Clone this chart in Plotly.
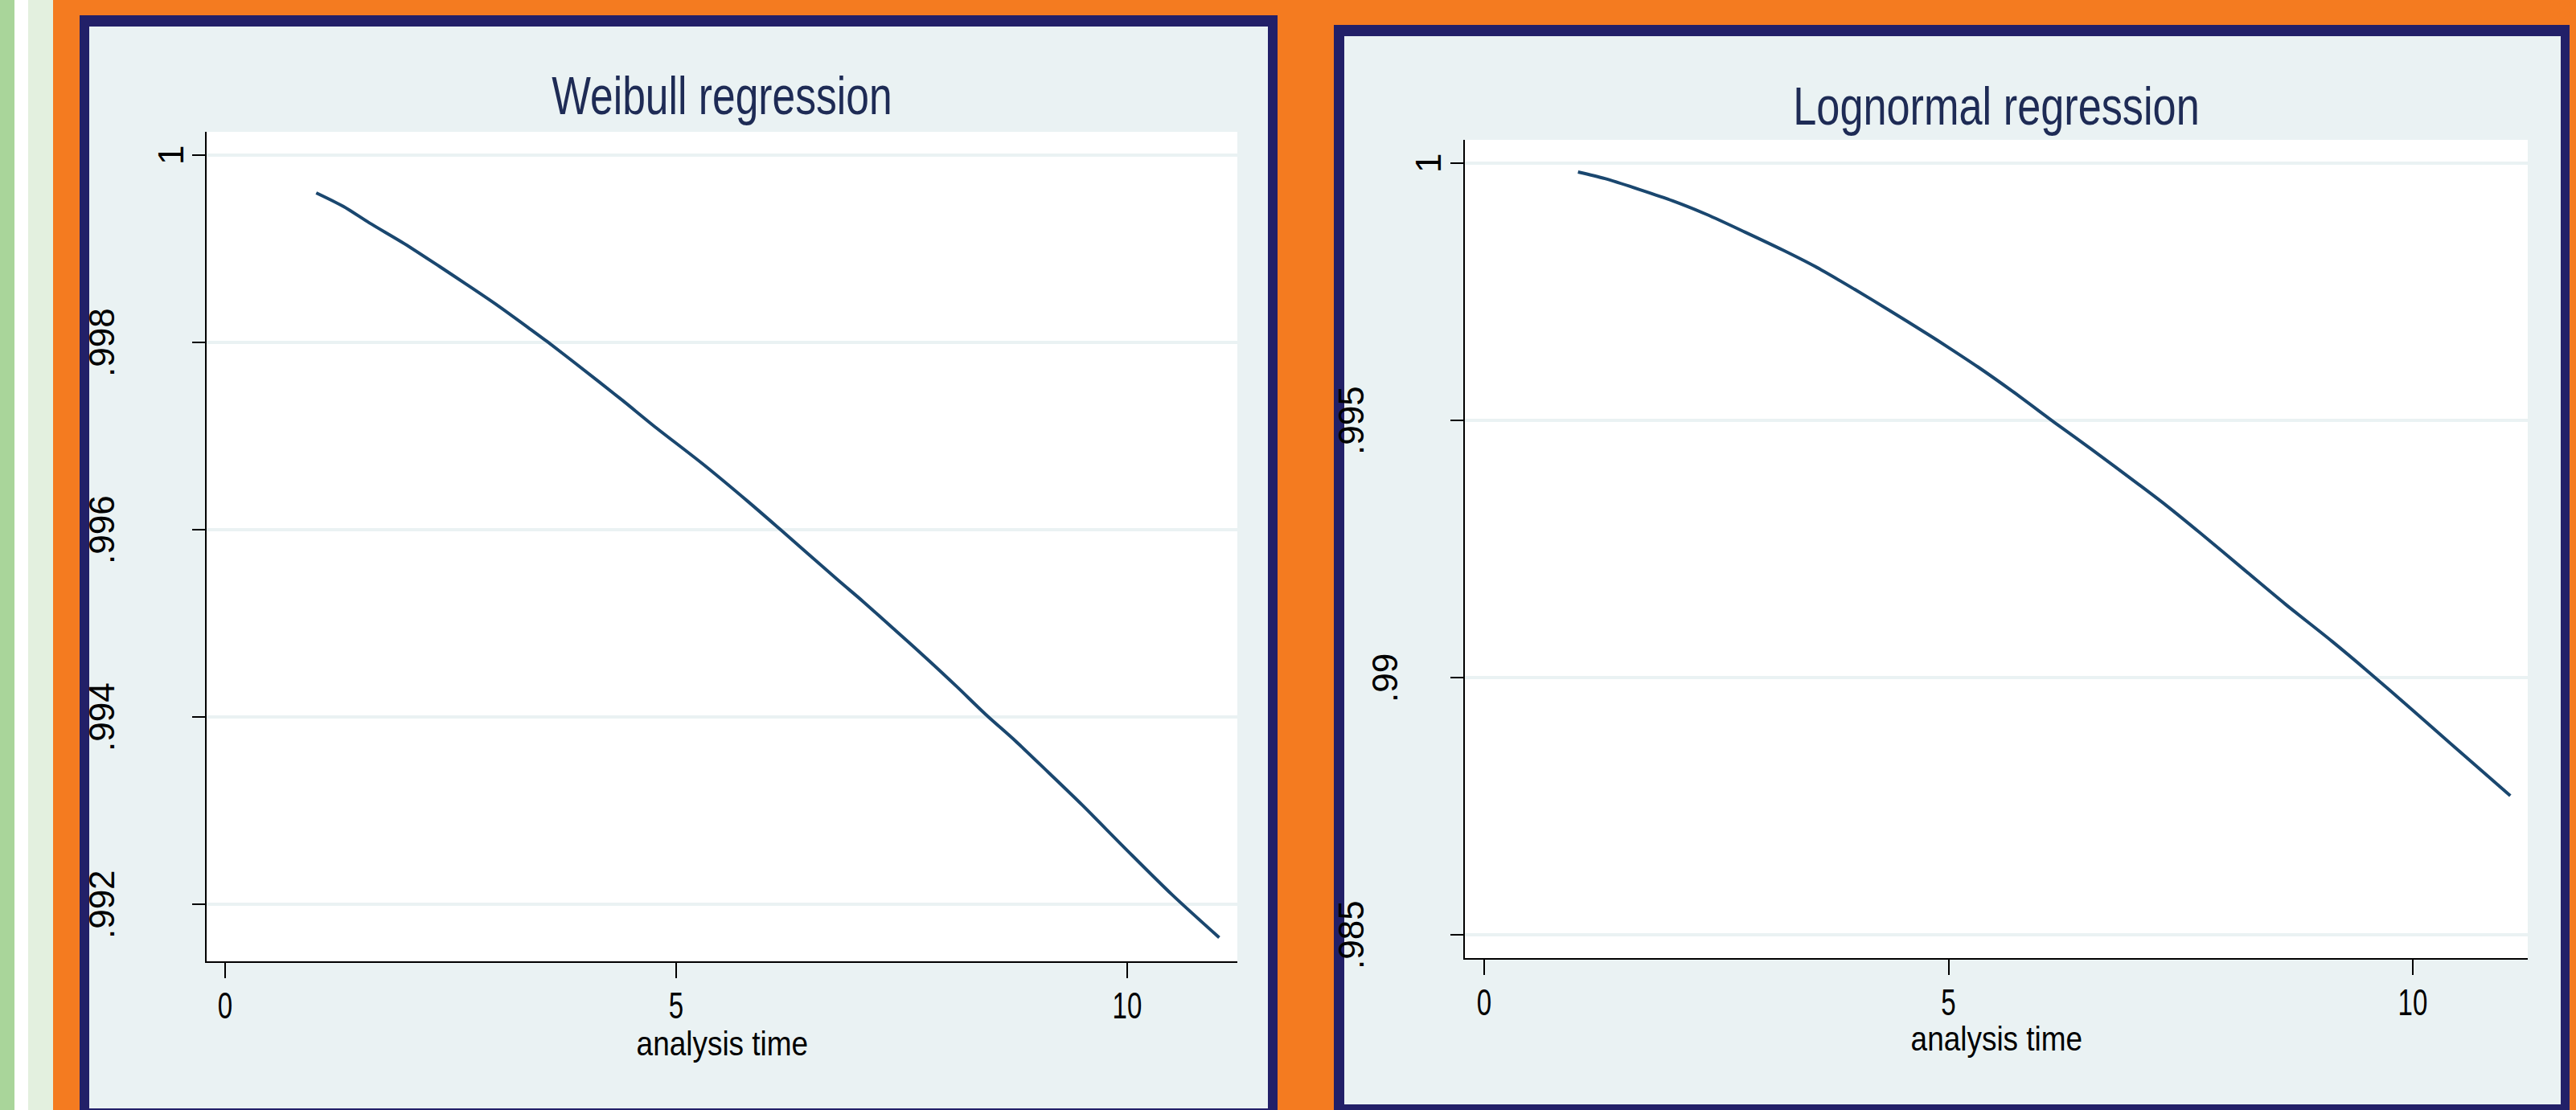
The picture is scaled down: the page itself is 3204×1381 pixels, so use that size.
import json
import plotly.graph_objects as go

# ---------------- data ----------------
weibull_t = [1.01, 1.31, 1.60, 1.99, 2.38, 2.67, 3.00, 3.39, 3.57, 3.86, 4.40, 4.75,
             5.29, 5.79, 6.15, 6.80, 7.07, 7.43, 7.81, 8.11, 8.44, 8.76, 9.12, 9.50,
             10.00, 10.50, 11.02]
weibull_s = [0.999597, 0.999453, 0.999276, 0.999053, 0.998809, 0.998624, 0.998409,
             0.998137, 0.998009, 0.997794, 0.997385, 0.997110, 0.996706, 0.996306,
             0.996006, 0.995457, 0.995235, 0.994925, 0.994595, 0.994325, 0.994020,
             0.993745, 0.993414, 0.993061, 0.992575, 0.992100, 0.991644]

lognormal_t = [1.01, 1.30, 1.68, 2.03, 2.40, 2.81, 3.21, 3.56, 3.99, 4.34, 4.80, 5.00,
               5.32, 5.69, 6.18, 6.53, 7.05, 7.34, 7.71, 8.20, 8.63, 9.13, 9.50, 10.00,
               10.50, 11.05]
lognormal_s = [0.999828, 0.999700, 0.999483, 0.999268, 0.999000, 0.998659, 0.998316,
               0.997995, 0.997546, 0.997165, 0.996649, 0.996417, 0.996035, 0.995564,
               0.994907, 0.994451, 0.993753, 0.993354, 0.992812, 0.992072, 0.991424,
               0.990705, 0.990146, 0.989363, 0.988569, 0.987704]

x_ticks = [0, 5, 10]
x_ticklabels = ["0", "5", "10"]
weibull_yticks = [0.992, 0.994, 0.996, 0.998, 1.0]
weibull_ylabels = [".992", ".994", ".996", ".998", "1"]
lognormal_yticks = [0.985, 0.99, 0.995, 1.0]
lognormal_ylabels = [".985", ".99", ".995", "1"]
panel_titles = ["Weibull regression", "Lognormal regression"]
x_title = "analysis time"

# ---------------- styling ----------------
W, H = 3204, 1381
ORANGE = "#f47b20"
NAVY = "#222068"
PANEL_BG = "#eaf2f3"
GRID = "#eaf2f3"
LINE = "#1a476f"
TITLE_C = "#1e2b55"
FONT = "Liberation Sans, Arial, sans-serif"


def fx(p):
    return p / W


def fy(p):
    return 1 - p / H


def rect(x0, y0, x1, y1, color):
    return dict(type="rect", xref="paper", yref="paper", layer="below",
                x0=fx(x0), x1=fx(x1), y0=fy(y1), y1=fy(y0),
                fillcolor=color, line=dict(width=0))


shapes = [
    rect(0, 0, 18, H, "#a9d59a"),
    rect(18, 0, 35, H, "#ffffff"),
    rect(35, 0, 66, H, "#e3f0df"),
    # panel 1
    rect(99, 19, 1589, H + 5, NAVY),
    rect(111, 33, 1577, 1379, PANEL_BG),
    rect(257, 164, 1539, 1196, "#ffffff"),
    # panel 2
    rect(1659, 31, 3196, H + 5, NAVY),
    rect(1672, 45, 3185, 1374, PANEL_BG),
    rect(1822, 174, 3144, 1192, "#ffffff"),
]

fig = go.Figure()
fig.add_trace(go.Scatter(x=weibull_t, y=weibull_s, mode="lines",
                         line=dict(color=LINE, width=4, shape="spline", smoothing=0.8),
                         xaxis="x", yaxis="y", showlegend=False, hoverinfo="skip"))
fig.add_trace(go.Scatter(x=lognormal_t, y=lognormal_s, mode="lines",
                         line=dict(color=LINE, width=4, shape="spline", smoothing=0.8),
                         xaxis="x2", yaxis="y2", showlegend=False, hoverinfo="skip"))

xaxis_common = dict(tickvals=x_ticks, ticktext=x_ticklabels, ticks="outside",
                    ticklen=19, tickwidth=2, tickcolor="black", showline=True,
                    linecolor="black", linewidth=2, showgrid=False, zeroline=False,
                    tickfont=dict(family=FONT, size=46, color="black"),
                    ticklabelstandoff=-5, fixedrange=True)
yaxis_common = dict(ticks="outside", ticklen=16, tickwidth=2, tickcolor="black",
                    showline=True, linecolor="black", linewidth=2, showgrid=True,
                    gridcolor=GRID, gridwidth=4, zeroline=False,
                    showticklabels=False, fixedrange=True)

fig.update_layout(
    width=W, height=H, autosize=False,
    margin=dict(l=0, r=0, t=0, b=0, pad=0),
    paper_bgcolor=ORANGE, plot_bgcolor="rgba(0,0,0,0)",
    shapes=shapes,
    xaxis=dict(domain=[fx(257), fx(1539)], range=[-0.205, 11.221], anchor="y",
               **xaxis_common),
    yaxis=dict(domain=[fy(1196), fy(164)], range=[0.991391, 1.000249], anchor="x",
               tickvals=weibull_yticks, **yaxis_common),
    xaxis2=dict(domain=[fx(1822), fx(3144)], range=[-0.208, 11.238], anchor="y2",
                **xaxis_common),
    yaxis2=dict(domain=[fy(1192), fy(174)], range=[0.984547, 1.000453], anchor="x2",
                tickvals=lognormal_yticks, **yaxis_common),
)

annotations = []
# titles
for xr, ypix, txt in [("x domain", 119, panel_titles[0]), ("x2 domain", 131, panel_titles[1])]:
    annotations.append(dict(xref=xr, x=0.5, yref="paper", y=fy(ypix), text=txt,
                            showarrow=False, xanchor="center", yanchor="middle",
                            font=dict(family=FONT, size=67, color=TITLE_C)))
# axis titles
for xr, ypix in [("x domain", 1298), ("x2 domain", 1292)]:
    annotations.append(dict(xref=xr, x=0.5, yref="paper", y=fy(ypix), text=x_title,
                            showarrow=False, xanchor="center", yanchor="middle",
                            font=dict(family=FONT, size=42, color="black")))
# rotated y tick labels (Stata style)
shift1 = {"1": -45}
for v, lab in zip(weibull_yticks, weibull_ylabels):
    annotations.append(dict(xref="x domain", x=0, yref="y", y=v, text=lab,
                            showarrow=False, xanchor="center", yanchor="middle",
                            xshift=shift1.get(lab, -131), textangle=-90,
                            font=dict(family=FONT, size=44, color="black")))
shift2 = {"1": -45, ".99": -100}
for v, lab in zip(lognormal_yticks, lognormal_ylabels):
    annotations.append(dict(xref="x2 domain", x=0, yref="y2", y=v, text=lab,
                            showarrow=False, xanchor="center", yanchor="middle",
                            xshift=shift2.get(lab, -142), textangle=-90,
                            font=dict(family=FONT, size=44, color="black")))
fig.update_layout(annotations=annotations)

# horizontal condensing of the (narrow-looking) horizontal texts
squeeze = {panel_titles[0]: 0.77, panel_titles[1]: 0.78, x_title: 0.88}
for lab in x_ticklabels:
    squeeze[lab] = 0.72

post_script = """
document.body.style.margin = '0';
document.body.style.padding = '0';
var RS_SQ = %s;
function rsSqueeze() {
  var gd = document.getElementById('{plot_id}');
  if (!gd) return;
  gd.querySelectorAll('text.annotation-text, g.xtick text, g.x2tick text').forEach(function (t) {
    if (t.getAttribute('data-sq')) return;
    var f = RS_SQ[t.textContent];
    if (!f) return;
    var L = t.getComputedTextLength();
    if (!L) return;
    t.setAttribute('textLength', (L * f).toFixed(1));
    t.setAttribute('lengthAdjust', 'spacingAndGlyphs');
    t.setAttribute('data-sq', '1');
  });
}
rsSqueeze();
setTimeout(rsSqueeze, 50);
setTimeout(rsSqueeze, 300);
""" % json.dumps(squeeze)

fig.write_html("out.html", config={"displayModeBar": False}, post_script=post_script)
